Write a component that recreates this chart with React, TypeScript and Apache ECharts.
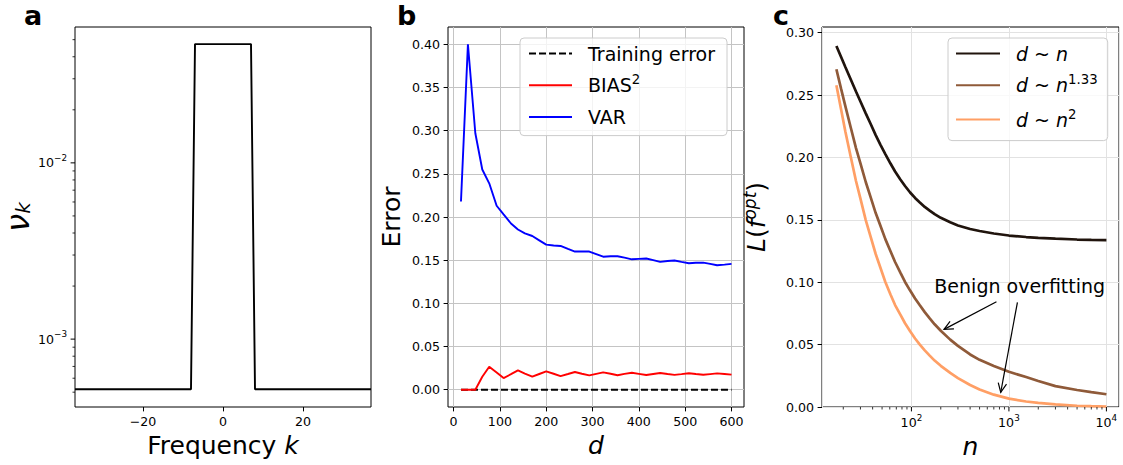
import React, { useEffect, useRef } from 'react';
import * as echarts from 'echarts';

const FONT = 'DejaVu Sans';

// ---------------- Panel a : spectrum ----------------
const freqK = [
  -37, -36, -35, -34, -33, -32, -31, -30, -29, -28, -27, -26, -25, -24, -23, -22, -21, -20, -19, -18,
  -17, -16, -15, -14, -13, -12, -11, -10, -9, -8, -7, -6, -5, -4, -3, -2, -1, 0, 1, 2, 3, 4, 5, 6, 7,
  8, 9, 10, 11, 12, 13, 14, 15, 16, 17, 18, 19, 20, 21, 22, 23, 24, 25, 26, 27, 28, 29, 30, 31, 32,
  33, 34, 35, 36, 37,
];
const nuK = [
  0.00052, 0.00052, 0.00052, 0.00052, 0.00052, 0.00052, 0.00052, 0.00052, 0.00052, 0.00052,
  0.00052, 0.00052, 0.00052, 0.00052, 0.00052, 0.00052, 0.00052, 0.00052, 0.00052, 0.00052,
  0.00052, 0.00052, 0.00052, 0.00052, 0.00052, 0.00052, 0.00052, 0.00052, 0.00052, 0.00052,
  0.0472, 0.0472, 0.0472, 0.0472, 0.0472, 0.0472, 0.0472, 0.0472, 0.0472, 0.0472,
  0.0472, 0.0472, 0.0472, 0.0472, 0.0472,
  0.00052, 0.00052, 0.00052, 0.00052, 0.00052, 0.00052, 0.00052, 0.00052, 0.00052, 0.00052,
  0.00052, 0.00052, 0.00052, 0.00052, 0.00052, 0.00052, 0.00052, 0.00052, 0.00052, 0.00052,
  0.00052, 0.00052, 0.00052, 0.00052, 0.00052, 0.00052, 0.00052, 0.00052, 0.00052, 0.00052,
];
const aXTicks = [-20, 0, 20];
const aYMajorTicks = [0.001, 0.01];
const aYMinorTicks = [
  0.0005, 0.0006, 0.0007, 0.0008, 0.0009, 0.002, 0.003, 0.004, 0.005, 0.006, 0.007, 0.008, 0.009,
  0.02, 0.03, 0.04, 0.05,
];

// ---------------- Panel b : error vs d ----------------
const dValues = [
  16, 31, 47, 62, 77, 93, 108, 124, 139, 154, 170, 185, 200, 216, 231, 247, 262, 277, 293, 308,
  323, 339, 354, 369, 385, 400, 416, 431, 446, 462, 477, 492, 508, 523, 539, 554, 569, 585, 600,
];
const trainingError = [
  0, 0, 0, 0, 0, 0, 0, 0, 0, 0, 0, 0, 0, 0, 0, 0, 0, 0, 0, 0,
  0, 0, 0, 0, 0, 0, 0, 0, 0, 0, 0, 0, 0, 0, 0, 0, 0, 0, 0,
];
const bias2 = [
  0, 0, 0, 0.015, 0.0267, 0.02, 0.0135, 0.018, 0.0224, 0.0187, 0.0151, 0.0182, 0.0213, 0.0185,
  0.0158, 0.0182, 0.0205, 0.0185, 0.0166, 0.0184, 0.0201, 0.0185, 0.0168, 0.0183, 0.0197, 0.0184,
  0.017, 0.0182, 0.0193, 0.0182, 0.0172, 0.0181, 0.0191, 0.0182, 0.0173, 0.0181, 0.0189, 0.0182,
  0.0175,
];
const variance = [
  0.218, 0.4, 0.297, 0.255, 0.239, 0.213, 0.203, 0.1925, 0.1855, 0.181, 0.178, 0.173, 0.168,
  0.167, 0.1665, 0.163, 0.16, 0.16, 0.16, 0.157, 0.154, 0.1545, 0.1546, 0.153, 0.151, 0.1515,
  0.152, 0.15, 0.148, 0.149, 0.1496, 0.148, 0.1465, 0.147, 0.1472, 0.1457, 0.1441, 0.1449, 0.1457,
];
const bXTicks = [0, 100, 200, 300, 400, 500, 600];
const bYTicks = [0, 0.05, 0.1, 0.15, 0.2, 0.25, 0.3, 0.35, 0.4];

// ---------------- Panel c : loss vs n ----------------
const nValues = [
  17, 19, 21, 24, 27, 30, 34, 38, 43, 48, 54, 61, 68, 77, 86, 97, 109, 122, 137, 154, 173, 200,
  250, 300, 400, 500, 700, 1000, 1500, 2000, 3000, 5000, 7000, 10000,
];
const lossDn = [
  0.2893, 0.2804, 0.2724, 0.262, 0.2528, 0.2448, 0.2353, 0.2272, 0.2179, 0.2103, 0.2027, 0.1951,
  0.1887, 0.1823, 0.1771, 0.1719, 0.1675, 0.1639, 0.1603, 0.1574, 0.1546, 0.1516, 0.148, 0.1455,
  0.1426, 0.141, 0.139, 0.1374, 0.1362, 0.1356, 0.1349, 0.1342, 0.1339, 0.1337,
];
const lossDn133 = [
  0.2706, 0.2549, 0.2411, 0.2232, 0.2075, 0.1952, 0.1803, 0.1686, 0.1554, 0.1454, 0.1345, 0.1248,
  0.1162, 0.1077, 0.1002, 0.0933, 0.087, 0.0815, 0.076, 0.071, 0.0663, 0.0611, 0.054, 0.049,
  0.0421, 0.0378, 0.0328, 0.0282, 0.024, 0.0209, 0.0167, 0.0136, 0.0119, 0.0102,
];
const lossDn2 = [
  0.2579, 0.2384, 0.2208, 0.1995, 0.1811, 0.167, 0.1498, 0.137, 0.1226, 0.1118, 0.1002, 0.0902,
  0.0817, 0.074, 0.0671, 0.0607, 0.0549, 0.05, 0.0454, 0.0412, 0.0372, 0.033, 0.0273, 0.0232,
  0.0176, 0.0141, 0.0099, 0.0067, 0.0044, 0.0033, 0.0021, 0.001, 0.0007, 0.0004,
];
const cXMajorTicks = [100, 1000, 10000];
const cXMinorTicks = [
  20, 30, 40, 50, 60, 70, 80, 90, 200, 300, 400, 500, 600, 700, 800, 900, 2000, 3000, 4000, 5000,
  6000, 7000, 8000, 9000,
];
const cYTicks = [0, 0.05, 0.1, 0.15, 0.2, 0.25, 0.3];
const annotationText = 'Benign overfitting';
const annotationAt = [1291, 0.097];
const arrowStarts = [
  [745, 0.0843],
  [1222, 0.0838],
];
const arrowEnds = [
  [216, 0.0622],
  [824, 0.0118],
];

// ---------------- helpers ----------------
const TICK_FS = 12.6;
const LABEL_FS = 25;
const LEG_FS = 19;

const mathRich = {
  r: { fontFamily: FONT, fontSize: LABEL_FS, color: '#000' },
  i: { fontFamily: FONT, fontSize: LABEL_FS, fontStyle: 'italic', color: '#000' },
  big: { fontFamily: FONT, fontSize: 32, fontStyle: 'italic', color: '#000', lineHeight: 26 },
  sub: { fontFamily: FONT, fontSize: 20, fontStyle: 'italic', color: '#000', lineHeight: 16, padding: [10, 0, 0, 0] },
  sup: { fontFamily: FONT, fontSize: 17, fontStyle: 'italic', color: '#000', padding: [0, 0, 14, 0] },
};

const logRich = {
  b: { fontFamily: FONT, fontSize: TICK_FS, color: '#000' },
  s: { fontFamily: FONT, fontSize: 8.8, color: '#000', padding: [0, 0, 10, 0] },
};
const logFormatter = (v: number) => {
  const e = Math.round(Math.log10(v));
  return '{b|10}{s|' + String(e).replace('-', '\u2212') + '}';
};

const legRich = {
  p: { fontFamily: FONT, fontSize: LEG_FS, width: 11, lineHeight: 24 },
  r: { fontFamily: FONT, fontSize: LEG_FS, color: '#000', lineHeight: 24 },
  i: { fontFamily: FONT, fontSize: LEG_FS, fontStyle: 'italic', color: '#000', lineHeight: 24 },
  s: { fontFamily: FONT, fontSize: 13.3, color: '#000', padding: [0, 0, 11, 0], lineHeight: 13 },
};

const tickLabel = {
  fontFamily: FONT,
  fontSize: TICK_FS,
  color: '#000',
};

const tickStyle = { lineStyle: { color: '#000', width: 1 } };

function tickSeries(
  xAxisIndex: number,
  yAxisIndex: number,
  data: number[][],
  orient: 'x' | 'y',
  len: number,
  width: number,
) {
  return {
    type: 'custom',
    xAxisIndex,
    yAxisIndex,
    silent: true,
    clip: false,
    z: 6,
    data,
    renderItem: (params: any, api: any) => {
      const cs = params.coordSys;
      const p = api.coord([api.value(0), api.value(1)]);
      if (orient === 'y') {
        return {
          type: 'line',
          shape: { x1: cs.x - len, y1: p[1], x2: cs.x, y2: p[1] },
          style: { stroke: '#000', lineWidth: width },
        };
      }
      const yb = cs.y + cs.height;
      return {
        type: 'line',
        shape: { x1: p[0], y1: yb, x2: p[0], y2: yb + len },
        style: { stroke: '#000', lineWidth: width },
      };
    },
  };
}

const gridBase = {
  show: true,
  borderColor: '#000',
  borderWidth: 1,
  backgroundColor: 'transparent',
  containLabel: false,
  outerBoundsMode: 'none',
};

const titleStyle = { fontFamily: FONT, fontSize: 27, fontWeight: 'bold', color: '#000', lineHeight: 20 };

const legendBase = {
  orient: 'vertical',
  top: 38,
  itemHeight: 14,
  itemGap: 10.3,
  borderColor: '#cccccc',
  borderWidth: 1,
  borderRadius: 4,
  backgroundColor: 'rgba(255,255,255,0.8)',
  selectedMode: false,
  itemStyle: { opacity: 0 },
  textStyle: { rich: legRich },
};

const option: any = {
  animation: false,
  backgroundColor: '#ffffff',
  title: [
    { text: 'a', left: 24, top: 5, padding: 0, textStyle: titleStyle },
    { text: 'b', left: 397, top: 5, padding: 0, textStyle: titleStyle },
    { text: 'c', left: 773, top: 5, padding: 0, textStyle: titleStyle },
  ],
  grid: [
    { ...gridBase, left: 75, top: 27, width: 296, height: 380 },
    { ...gridBase, left: 448, top: 27, width: 296, height: 380 },
    { ...gridBase, left: 822, top: 27, width: 297, height: 380 },
  ],
  xAxis: [
    {
      gridIndex: 0,
      type: 'value',
      min: -37,
      max: 37,
      axisLine: { show: false, onZero: false },
      splitLine: { show: false },
      axisTick: { show: true, customValues: aXTicks, length: 4.4, ...tickStyle },
      axisLabel: {
        ...tickLabel,
        customValues: aXTicks,
        margin: 8,
        formatter: (v: number) => String(v).replace('-', '\u2212'),
      },
      name: '{r|Frequency }{i|k}',
      nameLocation: 'middle',
      nameGap: 24,
      nameTextStyle: { rich: mathRich },
    },
    {
      gridIndex: 1,
      type: 'value',
      min: -12,
      max: 627,
      axisLine: { show: false, onZero: false },
      splitLine: { show: true, lineStyle: { color: '#c4c4c4', width: 1 } },
      axisTick: { show: true, customValues: bXTicks, length: 4.4, ...tickStyle },
      axisLabel: { ...tickLabel, customValues: bXTicks, margin: 8 },
      name: '{i|d}',
      nameLocation: 'middle',
      nameGap: 22,
      nameTextStyle: { rich: mathRich },
    },
    {
      gridIndex: 2,
      type: 'log',
      logBase: 10,
      min: 12.1,
      max: 13460,
      axisLine: { show: false, onZero: false },
      splitLine: { show: true, lineStyle: { color: '#e2e2e2', width: 1 } },
      axisTick: { show: false },
      axisLabel: {
        ...tickLabel,
        margin: 6,
        showMinLabel: false,
        showMaxLabel: false,
        formatter: logFormatter,
        rich: logRich,
      },
      name: '{i|n}',
      nameLocation: 'middle',
      nameGap: 22,
      nameTextStyle: { rich: mathRich },
    },
  ],
  yAxis: [
    {
      gridIndex: 0,
      type: 'log',
      logBase: 10,
      min: 0.000412,
      max: 0.059,
      axisLine: { show: false, onZero: false },
      splitLine: { show: false },
      axisTick: { show: false },
      axisLabel: {
        ...tickLabel,
        margin: 8,
        showMinLabel: false,
        showMaxLabel: false,
        formatter: logFormatter,
        rich: logRich,
      },
      name: '{big|\u03bd}{sub|k}',
      nameLocation: 'middle',
      nameGap: 38,
      nameTextStyle: { rich: mathRich },
    },
    {
      gridIndex: 1,
      type: 'value',
      min: -0.02,
      max: 0.42,
      splitNumber: 9,
      axisLine: { show: false, onZero: false },
      splitLine: { show: true, lineStyle: { color: '#c4c4c4', width: 1 } },
      axisTick: { show: true, customValues: bYTicks, length: 4.4, ...tickStyle },
      axisLabel: { ...tickLabel, customValues: bYTicks, margin: 8, formatter: (v: number) => v.toFixed(2) },
      name: '{r|Error}',
      nameLocation: 'middle',
      nameGap: 44,
      nameTextStyle: { rich: mathRich },
    },
    {
      gridIndex: 2,
      type: 'value',
      min: 0,
      max: 0.3045,
      interval: 0.05,
      axisLine: { show: false, onZero: false },
      splitLine: { show: true, lineStyle: { color: '#e2e2e2', width: 1 } },
      axisTick: { show: true, customValues: cYTicks, length: 4.4, ...tickStyle },
      axisLabel: { ...tickLabel, customValues: cYTicks, margin: 8, formatter: (v: number) => v.toFixed(2) },
      name: '{i|L}{r|(}{i|f}{sup|opt}{r|)}',
      nameLocation: 'middle',
      nameGap: 50,
      nameTextStyle: { rich: mathRich },
    },
  ],
  legend: [
    {
      ...legendBase,
      left: 520,
      data: ['Training error', 'BIAS²', 'VAR'],
      itemWidth: 43,
      padding: [6, 12, 9, 8],
      formatter: (name: string) =>
        name === 'BIAS²' ? '{p| }{r|BIAS}{s|2}' : '{p| }{r|' + name + '}',
    },
    {
      ...legendBase,
      left: 948,
      data: ['d ~ n', 'd ~ n^1.33', 'd ~ n^2'],
      itemWidth: 44,
      padding: [6, 10, 9, 7],
      formatter: (name: string) => {
        if (name === 'd ~ n') return '{p| }{i|d}{r| ~ }{i|n}';
        if (name === 'd ~ n^1.33') return '{p| }{i|d}{r| ~ }{i|n}{s|1.33}';
        return '{p| }{i|d}{r| ~ }{i|n}{s|2}';
      },
    },
  ],
  series: [
    // panel a
    {
      type: 'line',
      name: 'spectrum',
      xAxisIndex: 0,
      yAxisIndex: 0,
      data: freqK.map((k, i) => [k, nuK[i]]),
      symbol: 'none',
      lineStyle: { color: '#000', width: 1.9 },
      itemStyle: { color: '#000' },
      z: 3,
    },
    tickSeries(0, 0, aYMajorTicks.map((v) => [0, v]), 'y', 4.4, 1),
    tickSeries(0, 0, aYMinorTicks.map((v) => [0, v]), 'y', 2.5, 0.8),
    // panel b
    {
      type: 'line',
      name: 'Training error',
      xAxisIndex: 1,
      yAxisIndex: 1,
      data: dValues.map((d, i) => [d, trainingError[i]]),
      symbol: 'none',
      lineStyle: { color: '#000', width: 1.9, type: [7, 3] },
      itemStyle: { color: '#000' },
      z: 3,
    },
    {
      type: 'line',
      name: 'BIAS²',
      xAxisIndex: 1,
      yAxisIndex: 1,
      data: dValues.map((d, i) => [d, bias2[i]]),
      symbol: 'none',
      lineStyle: { color: '#ff0000', width: 1.9 },
      itemStyle: { color: '#ff0000' },
      z: 4,
    },
    {
      type: 'line',
      name: 'VAR',
      xAxisIndex: 1,
      yAxisIndex: 1,
      data: dValues.map((d, i) => [d, variance[i]]),
      symbol: 'none',
      lineStyle: { color: '#0000ff', width: 1.9 },
      itemStyle: { color: '#0000ff' },
      z: 5,
    },
    // panel c
    {
      type: 'line',
      name: 'd ~ n',
      xAxisIndex: 2,
      yAxisIndex: 2,
      data: nValues.map((n, i) => [n, lossDn[i]]),
      symbol: 'none',
      lineStyle: { color: '#20140d', width: 2.7 },
      itemStyle: { color: '#20140d' },
      z: 3,
    },
    {
      type: 'line',
      name: 'd ~ n^1.33',
      xAxisIndex: 2,
      yAxisIndex: 2,
      data: nValues.map((n, i) => [n, lossDn133[i]]),
      symbol: 'none',
      lineStyle: { color: '#8f5a39', width: 2.7 },
      itemStyle: { color: '#8f5a39' },
      z: 3,
    },
    {
      type: 'line',
      name: 'd ~ n^2',
      xAxisIndex: 2,
      yAxisIndex: 2,
      data: nValues.map((n, i) => [n, lossDn2[i]]),
      symbol: 'none',
      lineStyle: { color: '#ff9f65', width: 2.7 },
      itemStyle: { color: '#ff9f65' },
      z: 3,
    },
    tickSeries(2, 2, cXMajorTicks.map((v) => [v, 0.1]), 'x', 4.4, 1),
    tickSeries(2, 2, cXMinorTicks.map((v) => [v, 0.1]), 'x', 2.5, 0.8),
    {
      type: 'custom',
      name: 'arrows',
      xAxisIndex: 2,
      yAxisIndex: 2,
      silent: true,
      clip: false,
      z: 7,
      data: arrowStarts.map((s, i) => [s[0], s[1], arrowEnds[i][0], arrowEnds[i][1]]),
      renderItem: (params: any, api: any) => {
        const a = api.coord([api.value(0), api.value(1)]);
        const b = api.coord([api.value(2), api.value(3)]);
        const ang = Math.atan2(b[1] - a[1], b[0] - a[0]);
        const hl = 9;
        const hw = 4.2;
        const bx = b[0] - hl * Math.cos(ang);
        const by = b[1] - hl * Math.sin(ang);
        const nx = -Math.sin(ang);
        const ny = Math.cos(ang);
        return {
          type: 'group',
          children: [
            { type: 'line', shape: { x1: a[0], y1: a[1], x2: b[0], y2: b[1] }, style: { stroke: '#000', lineWidth: 1.2 } },
            {
              type: 'polyline',
              shape: { points: [[bx + nx * hw, by + ny * hw], [b[0], b[1]], [bx - nx * hw, by - ny * hw]] },
              style: { stroke: '#000', lineWidth: 1.2, fill: null },
            },
          ],
        };
      },
    },
    {
      type: 'custom',
      name: 'annotation',
      xAxisIndex: 2,
      yAxisIndex: 2,
      silent: true,
      clip: false,
      z: 7,
      data: [[annotationAt[0], annotationAt[1]]],
      renderItem: (params: any, api: any) => {
        const p = api.coord([api.value(0), api.value(1)]);
        return {
          type: 'text',
          x: p[0],
          y: p[1],
          style: {
            text: annotationText,
            fontFamily: FONT,
            fontSize: LEG_FS,
            fill: '#000',
            align: 'center',
            verticalAlign: 'middle',
          },
        };
      },
    },
  ],
};

export default function App() {
  const ref = useRef<HTMLDivElement>(null);
  useEffect(() => {
    if (!ref.current) return;
    const chart = echarts.init(ref.current, undefined, { renderer: 'svg' });
    chart.setOption(option);
    return () => chart.dispose();
  }, []);
  return (
    <div
      ref={ref}
      style={{ position: 'fixed', left: 0, top: 0, width: 1123, height: 465, background: '#fff' }}
    />
  );
}
